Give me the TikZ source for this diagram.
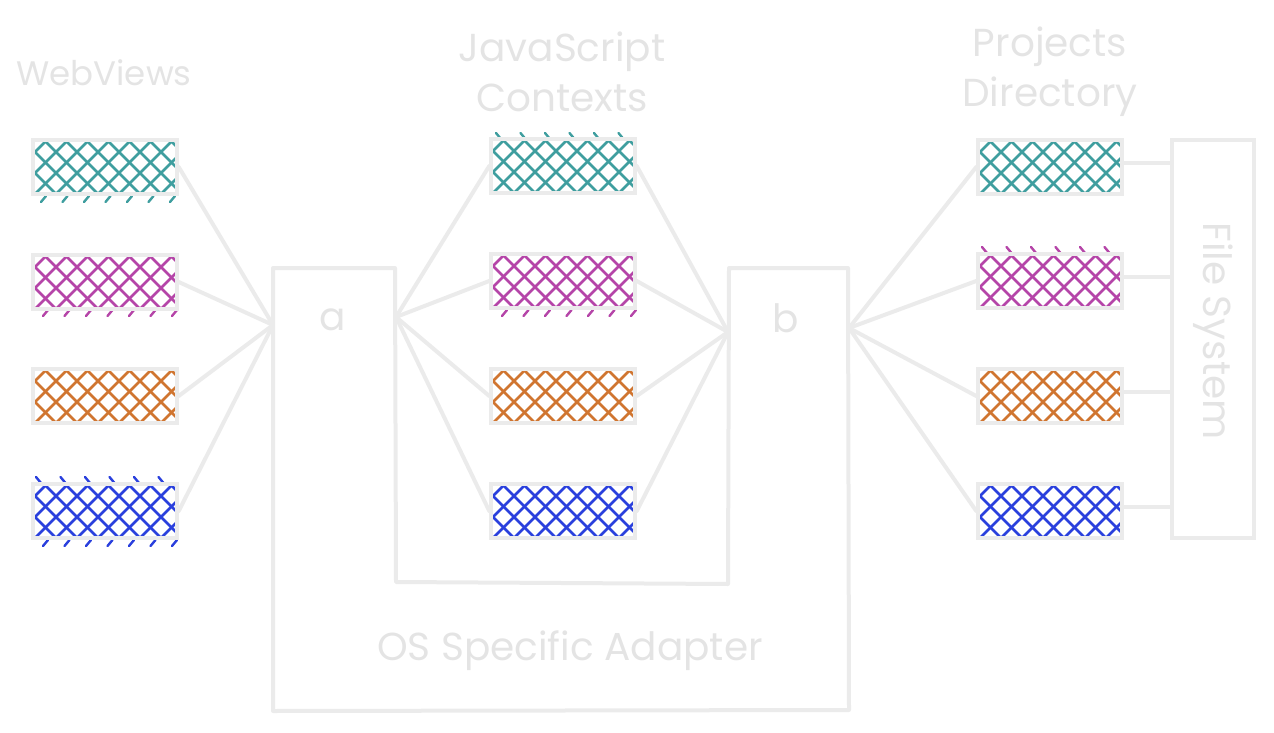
\documentclass[tikz,border=0pt]{standalone}
\usepackage{fontspec}
\setmainfont{Poppins}
\usetikzlibrary{calc}
\definecolor{edge}{HTML}{EBEBEB}
\definecolor{txt}{HTML}{E4E4E4}
\definecolor{cteal}{HTML}{3F9E9F}
\definecolor{cmag}{HTML}{B545A8}
\definecolor{corange}{HTML}{D07530}
\definecolor{cblue}{HTML}{2A40DD}
\tikzset{
 hbox/.style={draw=edge, line width=3.5pt, minimum width=144pt, minimum height=54pt, inner sep=0pt, fill=white,
   path picture={
     \foreach \k in {-3,...,10}{
       \draw[#1, line width=2.6pt] ($(path picture bounding box.south west)+(\k*21pt+2pt,0pt)$) -- ++(60pt,60pt);
       \draw[#1, line width=2.6pt] ($(path picture bounding box.south west)+(\k*21pt+2pt,0pt)$) -- ++(-60pt,60pt);
     }
   }},
 fsbox/.style={draw=edge, line width=3.5pt, minimum width=82pt, minimum height=398pt, inner sep=0pt},
 conn/.style={draw=edge, line width=4pt, line cap=round, line join=round},
 lbl/.style={text=txt, font=\fontsize{39}{50}\selectfont, align=center, inner sep=0pt},
 smalllbl/.style={lbl, font=\fontsize{34}{50}\selectfont},
 tickmark/.style={#1, line width=2.4pt, line cap=round},
}
\newcommand\fwdticks[4]{\foreach \i in {0,...,#4} \draw[tickmark=#1] (#2+\i*21.5, #3) -- ++(5,-6);}
\newcommand\backticks[4]{\foreach \i in {0,...,#4} \draw[tickmark=#1] (#2+\i*24.5, #3) -- ++(5,6);}
\begin{document}
\begin{tikzpicture}[x=1pt, y=-1pt]
\useasboundingbox (0,0) rectangle (1274,733);
% labels
\node[smalllbl] (lweb) at (104,73) {WebViews};
\node[lbl] (ljs) at (562,72) {JavaScript\\Contexts};
\node[lbl] (lproj) at (1050,72) {Projects\\Directory};
% adapter
\draw[conn] (273,268) -- (395,268) -- (396,582) -- (728,584) -- (729,268) -- (848,268) -- (849,710) -- (273,711) -- cycle;
\node[lbl] (la) at (333,320) {a};
\node[lbl] (lb) at (786,318) {b};
\node[lbl] (los) at (570,651) {OS Specific Adapter};
\coordinate (aL) at (273,325);
\coordinate (aR) at (396,317);
\coordinate (bL) at (728,332);
\coordinate (bR) at (849,328);
% ticks
\fwdticks{cteal}{41}{202}{6}
\fwdticks{cmag}{43}{316}{6}
\backticks{cblue}{36}{477}{5}
\fwdticks{cblue}{43}{546}{6}
\backticks{cteal}{496}{133}{5}
\fwdticks{cmag}{502}{316}{6}
\backticks{cmag}{982}{247}{5}
% boxes
\node[hbox=cteal] (w1) at (105,167) {};
\node[hbox=cmag] (w2) at (105,282) {};
\node[hbox=corange] (w3) at (105,396) {};
\node[hbox=cblue] (w4) at (105,511) {};
\node[hbox=cteal] (j1) at (563,166) {};
\node[hbox=cmag] (j2) at (563,281) {};
\node[hbox=corange] (j3) at (563,396) {};
\node[hbox=cblue] (j4) at (563,511) {};
\node[hbox=cteal] (p1) at (1050,167) {};
\node[hbox=cmag] (p2) at (1050,281) {};
\node[hbox=corange] (p3) at (1050,396) {};
\node[hbox=cblue] (p4) at (1050,511) {};
\node[fsbox] (fs) at (1213,339) {};
\node[lbl, rotate=-90] (lfs) at (1213,331) {File System};
% connectors
\foreach \n in {w1,w2,w3,w4} \draw[conn] (\n.east) -- (aL);
\foreach \n in {j1,j2,j3,j4} \draw[conn] (aR) -- (\n.west);
\foreach \n in {j1,j2,j3,j4} \draw[conn] (\n.east) -- (bL);
\foreach \n in {p1,p2,p3,p4} \draw[conn] (bR) -- (\n.west);
\foreach \n in {p1,p2,p3,p4} \draw[conn] ([yshift=4pt]\n.east) -- ([yshift=4pt]fs.west |- \n.east);
\end{tikzpicture}
\end{document}
